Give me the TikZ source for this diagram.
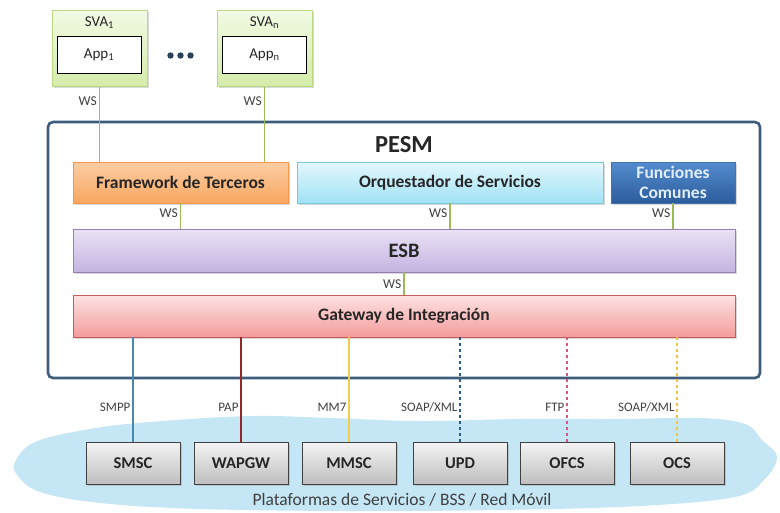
\documentclass[tikz,border=0pt]{standalone}
\usepackage{fontspec}
\setmainfont{Carlito}
\usetikzlibrary{shadows}
\definecolor{svaline}{RGB}{155,187,89}
\definecolor{svaborder}{RGB}{186,217,130}
\definecolor{pesmblue}{RGB}{62,92,124}
\definecolor{txtgrey}{RGB}{38,38,38}
\definecolor{lblgrey}{RGB}{64,64,64}
\definecolor{cloudblue}{RGB}{196,230,245}
\definecolor{smsccol}{RGB}{74,136,180}
\definecolor{wapcol}{RGB}{150,40,40}
\definecolor{mmsccol}{RGB}{240,205,80}
\definecolor{updcol}{RGB}{40,90,140}
\definecolor{ofcscol}{RGB}{214,86,128}
\definecolor{ocscol}{RGB}{244,196,70}
\tikzset{
  shade/.style={drop shadow={opacity=0.3,shadow xshift=1.5pt,shadow yshift=-1.5pt}},
  svabox/.style={draw=svaborder,line width=1pt,top color={rgb,255:red,242;green,250;blue,228},bottom color={rgb,255:red,212;green,236;blue,170},minimum width=95pt,minimum height=76pt,shade},
  appbox/.style={draw=black,line width=0.8pt,fill=white,minimum width=84pt,minimum height=37pt,font=\fontsize{15}{17}\selectfont,text=txtgrey},
  midbox/.style={line width=0.8pt,minimum height=41pt,font=\bfseries\fontsize{17.5}{20}\selectfont,text=txtgrey,shade},
  busbox/.style={line width=0.8pt,minimum width=662pt,font=\bfseries\fontsize{17.5}{20}\selectfont,text=txtgrey,shade},
  platbox/.style={draw=lblgrey,line width=0.8pt,top color={rgb,255:red,244;green,244;blue,244},bottom color={rgb,255:red,190;green,190;blue,190},minimum width=94pt,minimum height=42pt,font=\bfseries\fontsize{16.5}{18}\selectfont,text=txtgrey,shade},
  wsline/.style={svaline,line width=1.3pt},
  wslabel/.style={left,inner sep=2pt,font=\fontsize{13.5}{15}\selectfont,text=lblgrey},
  protline/.style={line width=1.1pt},
  protlabel/.style={left,inner sep=2pt,font=\fontsize{13}{15}\selectfont,text=lblgrey},
}
\begin{document}
\begin{tikzpicture}[x=1pt,y=-1pt]
  \useasboundingbox (0,0) rectangle (780,512);
  \fill [cloudblue] plot [smooth cycle,tension=0.6] coordinates {(15,462) (35,442) (90,429) (150,422) (250,416) (330,418) (420,421) (520,419) (620,419) (700,418) (745,424) (762,440) (777,457) (764,480) (735,497) (640,506) (500,510) (350,511) (200,509) (100,503) (40,492) (18,476)};
  \node [svabox] (sva1) at (99.5,48) {};
  \node [font=\fontsize{15}{17}\selectfont,text=txtgrey] (sva1lbl) at (99.5,23) {SVA\textsubscript{1}};
  \node [appbox] (app1) at (99,54.5) {App\textsubscript{1}};
  \node [svabox] (svan) at (264.5,48) {};
  \node [font=\fontsize{15}{17}\selectfont,text=txtgrey] (svanlbl) at (264.5,23) {SVA\textsubscript{n}};
  \node [appbox] (appn) at (264.5,54.5) {App\textsubscript{n}};
  \foreach \x in {170.5,180.5,190.5} \fill [pesmblue!70!black] (\x,55.5) circle (3.2);
  \draw [pesmblue,line width=2.6pt,rounded corners=5pt,fill=white] (48,122) rectangle (760,378);
  \node [font=\bfseries\fontsize{24.5}{26}\selectfont,text=txtgrey] (pesm) at (404,145) {PESM};
  \node [midbox,draw={rgb,255:red,247;green,150;blue,70},top color={rgb,255:red,252;green,206;blue,164},bottom color={rgb,255:red,248;green,166;blue,96},minimum width=215pt] (fw) at (180.5,182.5) {Framework de Terceros};
  \node [midbox,draw={rgb,255:red,120;green,200;blue,220},top color={rgb,255:red,228;green,247;blue,252},bottom color={rgb,255:red,160;green,226;blue,245},minimum width=306pt] (orq) at (450,182.5) {Orquestador de Servicios};
  \node [midbox,draw={rgb,255:red,67;green,114;blue,178},top color={rgb,255:red,84;green,140;blue,206},bottom color={rgb,255:red,44;green,92;blue,156},minimum width=124pt,text={rgb,255:red,225;green,238;blue,252},align=center,font=\bfseries\fontsize{17.5}{20}\selectfont] (fun) at (673,182.5) {Funciones\\Comunes};
  \node [busbox,draw={rgb,255:red,150;green,125;blue,185},top color={rgb,255:red,234;green,226;blue,245},bottom color={rgb,255:red,196;green,180;blue,224},minimum height=43pt,font=\bfseries\fontsize{20.5}{22}\selectfont] (esb) at (404,250.5) {ESB};
  \node [busbox,draw={rgb,255:red,200;green,90;blue,90},top color={rgb,255:red,253;green,226;blue,226},bottom color={rgb,255:red,243;green,156;blue,156},minimum height=42pt] (gw) at (404,316) {Gateway de Integración};
  \node [platbox] (smsc) at (133,463) {SMSC};
  \node [platbox] (wapgw) at (241,463) {WAPGW};
  \node [platbox] (mmsc) at (349,463) {MMSC};
  \node [platbox] (upd) at (460,463) {UPD};
  \node [platbox] (ofcs) at (567,463) {OFCS};
  \node [platbox] (ocs) at (677,463) {OCS};
  \node [text=lblgrey,font=\fontsize{17.5}{19}\selectfont] (plat) at (402,500) {Plataformas de Servicios / BSS / Red Móvil};
  \draw [wsline] (sva1.south) -- node [wslabel,pos=0.2] {WS} (sva1.south |- fw.north);
  \draw [wsline] (svan.south) -- node [wslabel,pos=0.2] {WS} (svan.south |- fw.north);
  \draw [wsline] (fw.south) -- node [wslabel,pos=0.4] {WS} (fw.south |- esb.north);
  \draw [wsline] (orq.south) -- node [wslabel,pos=0.4] {WS} (orq.south |- esb.north);
  \draw [wsline] (fun.south) -- node [wslabel,pos=0.4] {WS} (fun.south |- esb.north);
  \draw [wsline] (esb.south) -- node [wslabel,pos=0.55] {WS} (gw.north);
  \draw [protline,smsccol] (smsc.north |- gw.south) -- node [protlabel,pos=0.67] {SMPP} (smsc.north);
  \draw [protline,wapcol] (wapgw.north |- gw.south) -- node [protlabel,pos=0.67] {PAP} (wapgw.north);
  \draw [protline,mmsccol] (mmsc.north |- gw.south) -- node [protlabel,pos=0.67] {MM7} (mmsc.north);
  \draw [protline,updcol,dashed] (upd.north |- gw.south) -- node [protlabel,pos=0.67] {SOAP/XML} (upd.north);
  \draw [protline,ofcscol,dashed] (ofcs.north |- gw.south) -- node [protlabel,pos=0.67] {FTP} (ofcs.north);
  \draw [protline,ocscol,dashed] (ocs.north |- gw.south) -- node [protlabel,pos=0.67] {SOAP/XML} (ocs.north);
\end{tikzpicture}
\end{document}
